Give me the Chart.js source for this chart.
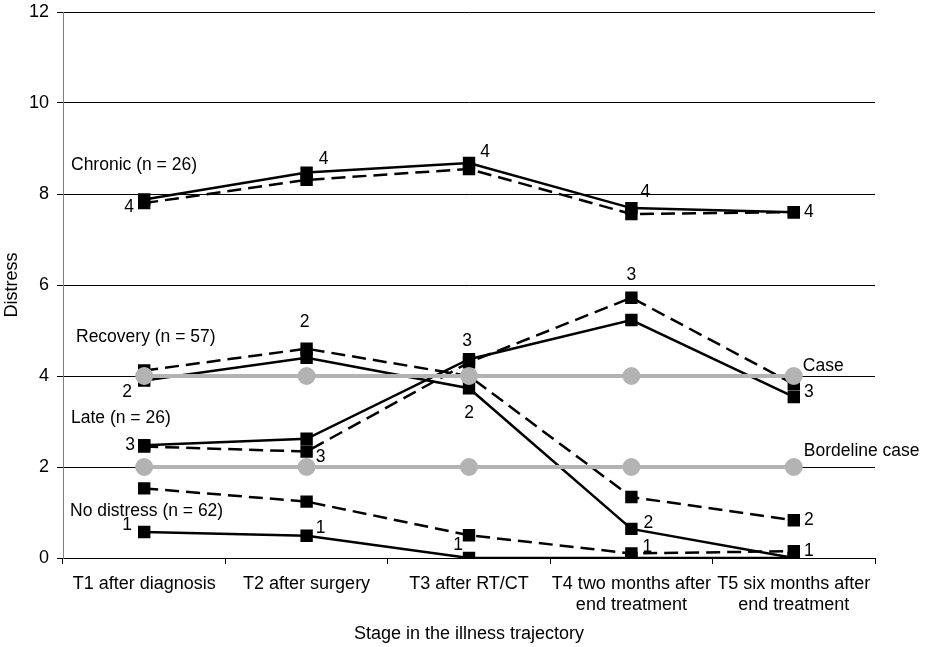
<!DOCTYPE html>
<html>
<head>
  <title>Distress trajectories</title>
  <script src="https://cdn.jsdelivr.net/npm/chart.js"></script>
  <style>
    body { margin: 0; background: #fff; }
    #wrap { width: 925px; height: 647px; }
  </style>
</head>
<body>
<div id="wrap"><canvas id="chart" width="925" height="647"></canvas></div>
<script>
const stages = ["T1 after diagnosis", "T2 after surgery", "T3 after RT/CT",
  ["T4 two months after", "end treatment"], ["T5 six months after", "end treatment"]];
const yTicks = [0, 2, 4, 6, 8, 10, 12];

const chronicSolid = [7.88, 8.47, 8.68, 7.69, 7.60];
const chronicDashed = [7.80, 8.31, 8.55, 7.56, 7.60];
const recoverySolid = [3.90, 4.40, 3.73, 0.64, 0.00];
const recoveryDashed = [4.12, 4.60, 4.00, 1.34, 0.83];
const lateSolid = [2.48, 2.62, 4.37, 5.23, 3.54];
const lateDashed = [2.45, 2.34, 4.30, 5.72, 3.82];
const noneSolid = [0.57, 0.49, 0.00, 0.00, 0.00];
const noneDashed = [1.53, 1.24, 0.50, 0.10, 0.15];
const caseLine = [4, 4, 4, 4, 4];
const borderlineLine = [2, 2, 2, 2, 2];

const groupNames = ["Chronic (n = 26)", "Recovery (n = 57)", "Late (n = 26)", "No distress (n = 62)"];
const groupNumbers = ["4", "2", "3", "1"];
const refNames = ["Case", "Bordeline case"];

const FONT = "'Liberation Sans', Arial, sans-serif";

function traj(data, dashed) {
  return {
    data: data,
    borderColor: "#000",
    backgroundColor: "#000",
    borderWidth: 2.5,
    borderDash: dashed ? [14, 7] : [],
    pointStyle: "rect",
    pointRadius: 7,
    pointHoverRadius: 7,
    tension: 0
  };
}
function ref(data) {
  return {
    data: data,
    borderColor: "#b3b3b3",
    backgroundColor: "#b3b3b3",
    borderWidth: 4,
    pointStyle: "circle",
    pointRadius: 7,
    pointHoverRadius: 7
  };
}

// which dataset/point gets each cluster number, and where the text sits
// [dataset index, point index, group, dx, dy]
const numberSpots = [
  [2, 0, 0, -15, 8], [2, 1, 0, 17, -13], [2, 2, 0, 16, -11], [2, 3, 0, 14, -16], [2, 4, 0, 15, 0],
  [4, 0, 1, -17, 12], [5, 1, 1, -2, -27], [4, 2, 1, 0, 25], [4, 3, 1, 17, -6], [5, 4, 1, 15, 0],
  [6, 0, 2, -14, 0], [7, 1, 2, 14, 6], [6, 2, 2, -2, -18], [7, 3, 2, 0, -23], [6, 4, 2, 15, -5],
  [8, 0, 3, -17, -7], [8, 1, 3, 14, -8], [8, 2, 3, -11, -13], [9, 3, 3, 16, -6], [9, 4, 3, 15, 0]
];
// group name anchors: [text, x offset from chart left, y value]
const nameSpots = [
  [groupNames[0], 8, 8.64], [groupNames[1], 13, 4.86], [groupNames[2], 8, 3.08], [groupNames[3], 7, 1.03]
];

const annotate = {
  id: "annotate",
  afterDatasetsDraw(chart) {
    const ctx = chart.ctx;
    const y = chart.scales.y;
    const area = chart.chartArea;
    ctx.save();
    ctx.fillStyle = "#000";
    ctx.font = "17.5px " + FONT;
    ctx.textBaseline = "middle";
    ctx.textAlign = "center";
    numberSpots.forEach(s => {
      const pt = chart.getDatasetMeta(s[0]).data[s[1]];
      ctx.fillText(groupNumbers[s[2]], pt.x + s[3], pt.y + s[4]);
    });
    ctx.textAlign = "left";
    nameSpots.forEach(s => {
      ctx.fillText(s[0], area.left + s[1], y.getPixelForValue(s[2]));
    });
    const c = chart.getDatasetMeta(0).data[4];
    const b = chart.getDatasetMeta(1).data[4];
    ctx.fillText(refNames[0], c.x + 9, c.y - 10);
    ctx.fillText(refNames[1], b.x + 10, b.y - 16);
    ctx.restore();
  }
};

new Chart(document.getElementById("chart"), {
  type: "line",
  data: {
    labels: stages,
    datasets: [
      ref(caseLine), ref(borderlineLine),
      traj(chronicSolid, false), traj(chronicDashed, true),
      traj(recoverySolid, false), traj(recoveryDashed, true),
      traj(lateSolid, false), traj(lateDashed, true),
      traj(noneSolid, false), traj(noneDashed, true)
    ]
  },
  options: {
    responsive: false,
    animation: false,
    layout: { padding: { top: 12, right: 50, left: 0, bottom: 0 } },
    plugins: { legend: { display: false }, tooltip: { enabled: false } },
    scales: {
      x: {
        offset: true,
        grid: { drawOnChartArea: false, drawTicks: true, tickLength: 6, color: "#000", offset: true },
        border: { color: "#000", width: 1 },
        ticks: { color: "#000", font: { family: FONT, size: 18 }, padding: 9, maxRotation: 0, autoSkip: false },
        title: { display: true, text: "Stage in the illness trajectory", color: "#000",
                 font: { family: FONT, size: 18 }, padding: { top: 4, bottom: 2 } },
        afterFit(s) { s.height = 89; s.paddingLeft = 0; s.paddingRight = 0; }
      },
      y: {
        min: 0, max: 12,
        afterBuildTicks(s) { s.ticks = yTicks.map(v => ({ value: v })); },
        grid: { color: "#000", lineWidth: 1, tickLength: 6 },
        border: { color: "#808080", width: 1 },
        ticks: { color: "#000", font: { family: FONT, size: 18 }, padding: 8 },
        title: { display: true, text: "Distress", color: "#000",
                 font: { family: FONT, size: 18 }, padding: { top: 1, bottom: 0 } },
        afterFit(s) { s.width = 63; s.paddingTop = 0; s.paddingBottom = 0; }
      }
    }
  },
  plugins: [annotate]
});
</script>
</body>
</html>
